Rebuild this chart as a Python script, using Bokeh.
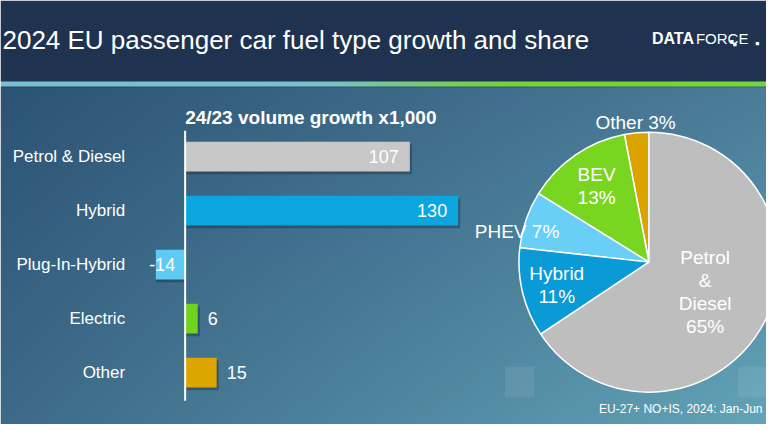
import numpy as np
from bokeh.plotting import figure
from bokeh.models import Range1d, ColumnDataSource
from bokeh.embed import file_html
from bokeh.resources import INLINE
from bokeh.core.properties import value

# ---------------- data ----------------
categories = ["Petrol & Diesel", "Hybrid", "Plug-In-Hybrid", "Electric", "Other"]
growth = [107, 130, -14, 6, 15]
bar_colors = ["#c8c8c8", "#0ba5df", "#5ecbf4", "#70d41d", "#dda500"]

pie_names = ["Other", "BEV", "PHEV", "Hybrid", "Petrol & Diesel"]
pie_shares = [3, 13, 7, 11, 65]
pie_colors = ["#dba300", "#78d520", "#6acff6", "#0a9ad5", "#bebebe"]

title_text = "2024 EU passenger car fuel type growth and share"
bar_title = "24/23 volume growth x1,000"
footer_text = "EU-27+ NO+IS, 2024: Jan-Jun"

# ---------------- styles / layout ----------------
W, H = 766, 424
SX, SY = W / 782.0, H / 440.0
FAMILY = "Liberation Sans"


def rx(X):  # reference-layout px -> figure px
    return X * SX


def ry(Y):
    return H - Y * SY


pie_label_lines = [["{n} {v}%"], ["{n}", "{v}%"], ["{n} {v}%"], ["{n}", "{v}%"],
                   ["Petrol", "&", "Diesel", "{v}%"]]
pie_label_k = [1.08, 0.71, 0.73, 0.73, 0.49]
pie_label_align = ["center", "center", "right", "center", "center"]
pie_cx_px, pie_cy_px, pie_r = rx(662), ry(271.5), 130
line_step = 23

px_per_unit = 2.1          # px per 1,000 cars
zero_x = rx(188.5)         # px of the zero line
row_px = 54                # px per category row
top_row_y = ry(162)        # px (from bottom) of first category row


def fx(px):
    return (px - zero_x) / px_per_unit


def fy(py):
    return (py - top_row_y) / row_px


def rgb(h):
    h = h.lstrip("#")
    return np.array([int(h[i:i + 2], 16) for i in (0, 2, 4)], float)


# ---------------- background image ----------------
rows_i, cols_i = np.mgrid[0:H, 0:W]
X = (cols_i + 0.5) / SX
Y = (H - rows_i - 0.5) / SY
tx = (X / 782.0)[..., None]
ty = ((Y - 90) / 350.0).clip(0, 1)[..., None]
TL, TR, BL, BR = rgb("#2d5374"), rgb("#4b7c99"), rgb("#3d6a88"), rgb("#62a4b8")
img = (TL * (1 - tx) + TR * tx) * (1 - ty) + (BL * (1 - tx) + BR * tx) * ty
img[Y < 84] = rgb("#1f3350")
st = (Y >= 84) & (Y < 89.5)
t = ((X - 280) / 260.0).clip(0, 1)
t = (t * t * (3 - 2 * t))[..., None]
stripe = rgb("#78c0d4") * (1 - t) + rgb("#74d43a") * t
img[st] = stripe[st]
dl = (Y >= 89.5) & (Y < 90.5)
img[dl] = img[dl] * 0.8
rgba = np.empty((H, W), dtype=np.uint32)
view = rgba.view(dtype=np.uint8).reshape((H, W, 4))
for k in range(3):
    view[..., k] = img[..., k].clip(0, 255).astype(np.uint8)
view[..., 3] = 255

# ---------------- figure ----------------
p = figure(width=W, height=H,
           x_range=Range1d(fx(0), fx(W)), y_range=Range1d(fy(0), fy(H)),
           output_backend="svg", toolbar_location=None,
           x_axis_location=None, y_axis_location=None, min_border=0)
p.xgrid.visible = False
p.ygrid.visible = False
p.outline_line_color = None

p.image_rgba(image=[rgba], x=fx(0), y=fy(0), dw=fx(W) - fx(0), dh=fy(H) - fy(0))

# watermark squares & logo squares (reference-layout px)
sq_l, sq_t = [515, 753], [380, 380]
p.quad(left=[fx(rx(v)) for v in sq_l], right=[fx(rx(v + 30)) for v in sq_l],
       top=[fy(ry(v)) for v in sq_t], bottom=[fy(ry(v + 32)) for v in sq_t],
       fill_color="white", fill_alpha=0.08, line_color=None)
lg_l, lg_t = [745, 748, 771], [41, 44, 43]
p.quad(left=[fx(rx(v)) for v in lg_l], right=[fx(rx(v + 3.5)) for v in lg_l],
       top=[fy(ry(v)) for v in lg_t], bottom=[fy(ry(v + 3.5)) for v in lg_t],
       fill_color="white", line_color=None)

# ---------------- bar chart ----------------
rows = [-i for i in range(len(categories))]
src = ColumnDataSource(dict(
    growth=growth, row=rows, color=bar_colors,
    srow=[r - 0.05 for r in rows],
    sright=[g + (1 if g > 0 else 0) for g in growth],
))
p.hbar(y="srow", left=0, right="sright", height=0.55, source=src,
       fill_color="black", fill_alpha=0.25, line_color=None)
p.hbar(y="row", left=0, right="growth", height=0.55, source=src,
       fill_color="color", line_color=None)
p.segment(x0=[0], y0=[rows[0] + 0.48], x1=[0], y1=[rows[-1] - 0.52],
          line_color="white", line_width=2)

# ---------------- pie ----------------
shares = np.array(pie_shares, float)
frac = shares / shares.sum()
cum = np.concatenate([[0.0], np.cumsum(frac)])
start = [float(v) for v in (np.pi / 2 + 2 * np.pi * cum[:-1])]
end = [float(v) for v in (np.pi / 2 + 2 * np.pi * cum[1:])]
mid = [(a + b) / 2 for a, b in zip(start, end)]
n = len(pie_shares)
psrc = ColumnDataSource(dict(
    x=[fx(pie_cx_px)] * n, y=[fy(pie_cy_px)] * n,
    start=start, end=end, color=pie_colors,
))
p.wedge(x="x", y="y", radius=pie_r, radius_units="screen",
        start_angle="start", end_angle="end",
        direction="anticlock", fill_color="color", line_color="white",
        line_width=1.5, source=psrc)


# ---------------- texts ----------------
def txt(x, y, s, size, **kw):
    p.text(x=list(x), y=list(y), text=list(s), text_font=value(FAMILY),
           text_font_size=size, text_color="white", **kw)


txt([fx(rx(2))], [fy(ry(41))], [title_text], "26px", text_baseline="middle")
txt([fx(rx(665))], [fy(ry(39))], ["DATA"], "16px", text_font_style="bold",
    text_baseline="middle")
txt([fx(rx(665) + 44)], [fy(ry(39))], ["FORCE"], "15px", text_baseline="middle")
txt([0], [fy(ry(121))], [bar_title], "19px", text_font_style="bold",
    text_baseline="middle")

txt([0] * len(rows), rows, categories, "17px", x_offset=-60, text_align="right",
    text_baseline="middle")

inside = [i for i, g in enumerate(growth) if g >= 50]
neg = [i for i, g in enumerate(growth) if g < 0]
outside = [i for i, g in enumerate(growth) if 0 <= g < 50]
txt([growth[i] for i in inside], [rows[i] for i in inside],
    [str(growth[i]) for i in inside], "18px", x_offset=-11, text_align="right",
    text_baseline="middle")
txt([0 for i in neg], [rows[i] for i in neg],
    [str(growth[i]) for i in neg], "18px", x_offset=-10, text_align="right",
    text_baseline="middle")
txt([growth[i] for i in outside], [rows[i] for i in outside],
    [str(growth[i]) for i in outside], "18px", x_offset=10, text_align="left",
    text_baseline="middle")

for i, name in enumerate(pie_names):
    lx = float(pie_cx_px + pie_label_k[i] * pie_r * np.cos(mid[i]))
    ly = float(pie_cy_px + pie_label_k[i] * pie_r * np.sin(mid[i]))
    lines = [s.format(n=name, v=pie_shares[i]) for s in pie_label_lines[i]]
    nl = len(lines)
    ys = [fy(ly + (nl - 1) / 2 * line_step - j * line_step) for j in range(nl)]
    txt([fx(lx)] * nl, ys, lines, "19px",
        text_align=pie_label_align[i], text_baseline="middle")

txt([fx(W - 4)], [fy(ry(424))], [footer_text], "12px", text_align="right",
    text_baseline="middle")

open("out.html", "w").write(file_html(p, INLINE))
